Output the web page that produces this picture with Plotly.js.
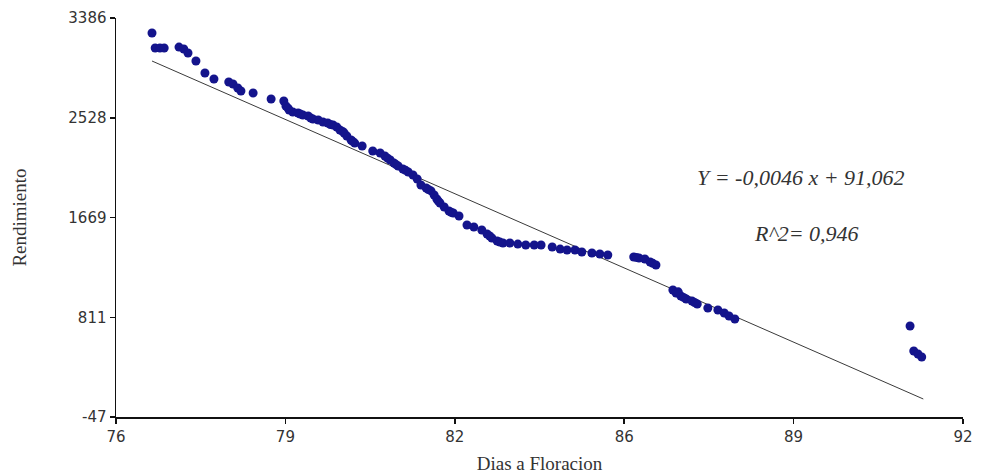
<!DOCTYPE html>
<html>
<head>
<meta charset="utf-8">
<script src="https://cdn.plot.ly/plotly-3.0.1.min.js"></script>
<style>
  html, body { margin: 0; padding: 0; background: #ffffff; }
  #chart { width: 981px; height: 474px; }
</style>
</head>
<body>
<div id="chart"></div>
<script>
// Days to flowering (x) and yield (y) for each observation
const diasFloracion = [
  76.68, 76.74, 76.83, 76.91, 77.19, 77.28, 77.36, 77.51, 77.68, 77.85,
  78.13, 78.21, 78.30, 78.36, 78.59, 78.93, 79.17, 79.21, 79.27, 79.34,
  79.44, 79.53, 79.63, 79.72, 79.82, 79.91, 80.00, 80.10, 80.17, 80.23,
  80.31, 80.36, 80.44, 80.51, 80.65, 80.85, 80.99, 81.08, 81.18, 81.25,
  81.33, 81.42, 81.52, 81.61, 81.69, 81.76, 81.86, 81.95, 82.01, 82.06,
  82.12, 82.20, 82.29, 82.37, 82.48, 82.63, 82.76, 82.91, 83.01, 83.10,
  83.20, 83.31, 83.44, 83.59, 83.74, 83.90, 84.03, 84.24, 84.39, 84.52,
  84.67, 84.80, 84.99, 85.14, 85.29, 85.78, 85.88, 85.99, 86.09, 86.20,
  86.52, 86.58, 86.67, 86.77, 86.88, 86.98, 87.18, 87.37, 87.49, 87.58,
  87.69, 91.00, 91.07, 91.15, 91.22,
  79.25, 79.48, 79.68, 80.05, 80.28, 80.47, 81.13, 81.29, 81.47, 81.90,
  82.09, 82.33, 83.06, 83.25, 85.83, 86.14, 86.62, 86.72, 86.93
];
const rendimiento = [
  3257, 3128, 3128, 3128, 3136, 3119, 3085, 3016, 2913, 2861,
  2835, 2818, 2784, 2758, 2741, 2689, 2672, 2629, 2594, 2577,
  2569, 2551, 2543, 2517, 2508, 2491, 2483, 2465, 2448, 2422,
  2397, 2371, 2336, 2310, 2285, 2242, 2224, 2199, 2164, 2138,
  2113, 2087, 2061, 2035, 2001, 1949, 1923, 1898, 1863, 1829,
  1794, 1760, 1725, 1708, 1682, 1605, 1588, 1562, 1528, 1493,
  1467, 1450, 1450, 1441, 1433, 1433, 1433, 1416, 1398, 1390,
  1390, 1373, 1364, 1355, 1347, 1330, 1321, 1312, 1287, 1261,
  1046, 1020, 994, 968, 951, 925, 891, 874, 848, 822,
  796, 736, 521, 495, 469,
  2610, 2560, 2525, 2470, 2410, 2325, 2180, 2125, 2075, 1910,
  1810, 1715, 1510, 1458, 1326, 1275, 1030, 982, 938
];

// Fitted regression line (end points)
const ajusteX = [76.68, 91.25];
const ajusteY = [3016, 108];

// Axis ticks: five equal steps across each range, labels rounded
const xTickVals = [76, 79.2, 82.4, 85.6, 88.8, 92];
const xTickText = ['76', '79', '82', '86', '89', '92'];
const yTickVals = [-47, 811.25, 1669.5, 2527.75, 3386];
const yTickText = ['-47', '811', '1669', '2528', '3386'];

const ecuacion = 'Y = -0,0046 x + 91,062';
const r2 = 'R^2= 0,946';

const traces = [
  {
    x: ajusteX, y: ajusteY, type: 'scatter', mode: 'lines',
    line: { color: '#3a3a3a', width: 1 }, hoverinfo: 'skip'
  },
  {
    x: diasFloracion, y: rendimiento, type: 'scatter', mode: 'markers',
    marker: { color: '#14148c', size: 9, line: { width: 0 } }
  }
];

const tickFont = { family: 'DejaVu Sans, Arial, sans-serif', size: 15, color: '#333333' };
const titleFont = { family: 'Liberation Serif, Times New Roman, serif', size: 19, color: '#333333' };
const noteFont = { family: 'Liberation Serif, Times New Roman, serif', size: 22, color: '#333333', style: 'italic' };

const layout = {
  width: 981, height: 474,
  margin: { l: 116, r: 18, t: 18, b: 57 },
  paper_bgcolor: '#ffffff', plot_bgcolor: '#ffffff',
  showlegend: false,
  xaxis: {
    range: [76, 92], tickvals: xTickVals, ticktext: xTickText,
    showgrid: false, zeroline: false, showline: true, linecolor: '#111111', linewidth: 1.5,
    ticks: 'outside', ticklen: 5, tickcolor: '#111111', tickwidth: 1.5,
    tickfont: tickFont,
    title: { text: 'Dias a Floracion', font: titleFont, standoff: 12 }
  },
  yaxis: {
    range: [-47, 3386], tickvals: yTickVals, ticktext: yTickText,
    showgrid: false, zeroline: false, showline: true, linecolor: '#111111', linewidth: 1.5,
    ticks: 'outside', ticklen: 5, tickcolor: '#111111', tickwidth: 1.5,
    tickfont: tickFont,
    title: { text: 'Rendimiento', font: titleFont, standoff: 36 }
  },
  annotations: [
    { x: 88.94, y: 2018, xref: 'x', yref: 'y', text: ecuacion, showarrow: false, font: noteFont },
    { x: 89.05, y: 1536, xref: 'x', yref: 'y', text: r2, showarrow: false, font: noteFont }
  ]
};

Plotly.newPlot('chart', traces, layout, { displayModeBar: false, staticPlot: true });
</script>
</body>
</html>
